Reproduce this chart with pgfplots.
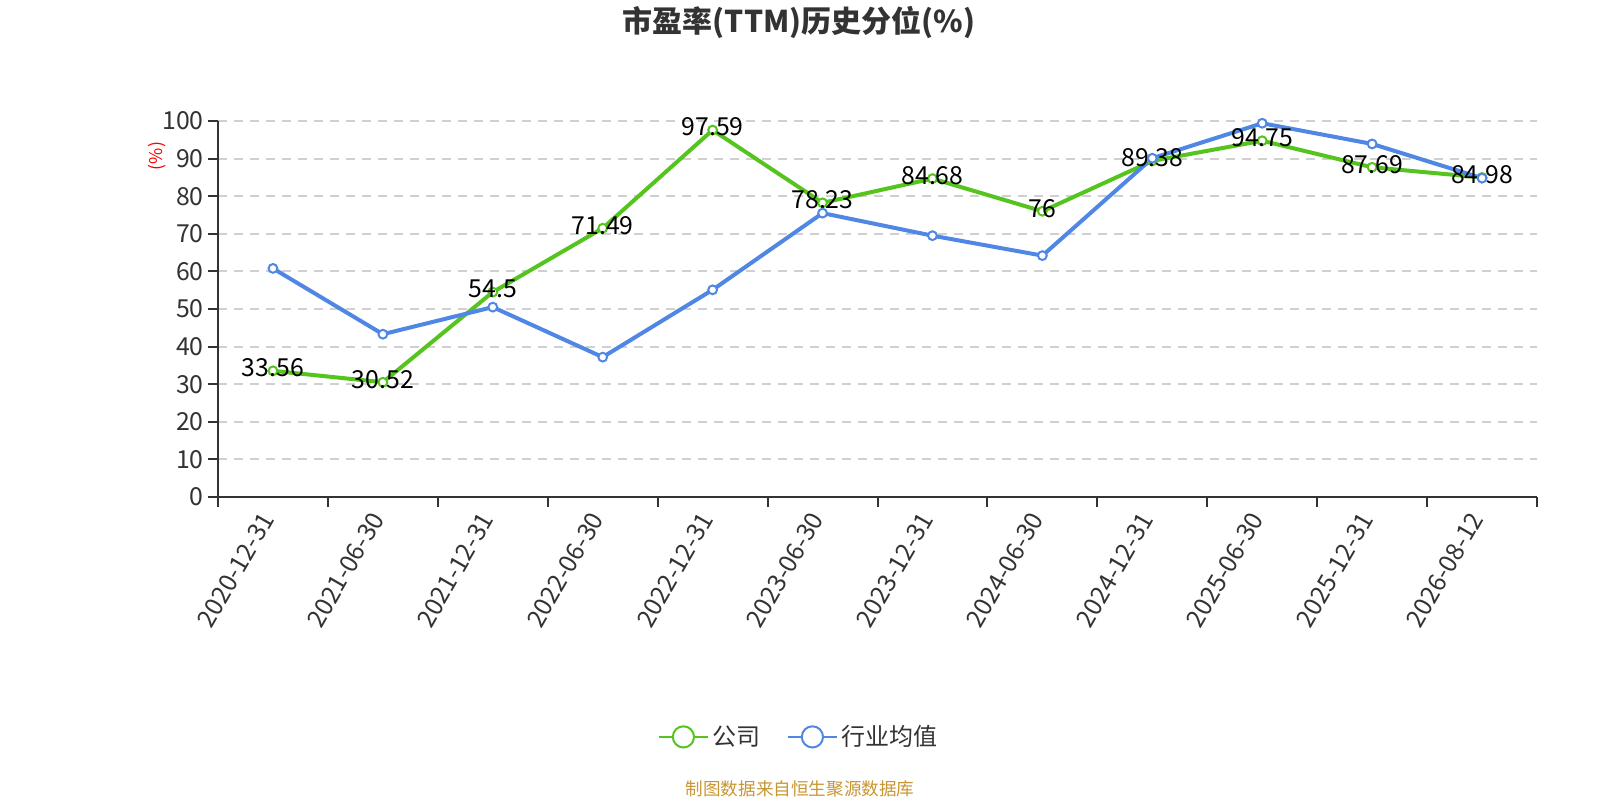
\documentclass[border=0pt]{standalone}
\usepackage{pgfplots}
\pgfplotsset{compat=1.18}
\usepackage{pgfplotstable}
\usepackage{fontspec}
\setmainfont{Noto Sans CJK SC}
\definecolor{cgreen}{RGB}{86,196,30}
\definecolor{cblue}{RGB}{80,135,228}
\definecolor{ctext}{RGB}{51,51,51}
\definecolor{cgrid}{RGB}{208,208,208}
\definecolor{csrc}{RGB}{200,150,50}
\pgfplotstableread{
x y lab
0 33.56 33.56
1 30.52 30.52
2 54.5 54.5
3 71.49 71.49
4 97.59 97.59
5 78.23 78.23
6 84.68 84.68
7 76 76
8 89.38 89.38
9 94.75 94.75
10 87.69 87.69
11 84.98 84.98
}\company
\pgfplotstableread{
x y
0 60.8
1 43.3
2 50.5
3 37.2
4 55.1
5 75.5
6 69.5
7 64.2
8 90.1
9 99.4
10 93.9
11 84.8
}\industry
\begin{document}
\begin{tikzpicture}[x=1pt,y=1pt]
\path[use as bounding box] (0,0) rectangle (800,400);
\begin{axis}[
  at={(109pt,151.5pt)}, anchor=south west,
  scale only axis, width=659.5pt, height=188pt,
  xmin=-0.5, xmax=11.5, ymin=0, ymax=100,
  axis lines=left, axis line style={-, draw=ctext, line width=1pt},
  xtick={0,...,11},
  xticklabels={2020-12-31,2021-06-30,2021-12-31,2022-06-30,2022-12-31,2023-06-30,2023-12-31,2024-06-30,2024-12-31,2025-06-30,2025-12-31,2026-08-12},
  minor xtick={-0.5,0.5,...,11.5},
  ytick={0,10,...,100},
  tick align=outside,
  major tick length=5pt, minor tick length=5pt,
  x tick style={draw=none},
  minor x tick style={draw=ctext, line width=1pt},
  y tick style={draw=ctext, line width=1pt},
  xticklabel style={xshift=-2.2pt, yshift=-2.8pt, rotate=60, anchor=east, font=\fontsize{12.4}{14}\selectfont, text=ctext, inner sep=1pt},
  yticklabel style={font=\fontsize{12.4}{14}\selectfont, text=ctext, inner sep=2pt},
  /pgf/number format/assume math mode=true,
  ymajorgrids, grid style={cgrid, dash pattern=on 4.5pt off 3.5pt, line width=1pt},
  legend style={at={(0.4412,-0.638)}, anchor=center, draw=none, fill=none, legend columns=2,
    font=\fontsize{12}{14}\selectfont, text=ctext,
    /tikz/every even column/.append style={column sep=11pt}},
  legend image code/.code={\draw[#1, line width=1pt] (0pt,0pt) -- (24.5pt,0pt);
    \draw[#1, line width=1pt, fill=white] (12.25pt,0pt) circle (5.3pt);},
  clip=false,
]
\addplot[cgreen, line width=2pt, mark=*, mark size=2.2pt, mark options={fill=white, line width=1pt},
  nodes near coords, point meta=explicit symbolic,
  every node near coord/.append style={anchor=center, yshift=1.5pt, text=black, font=\fontsize{12.4}{14}\selectfont}]
  table[x=x, y=y, meta=lab] {\company};
\addlegendentry{公司}
\addplot[cblue, line width=2pt, mark=*, mark size=2.2pt, mark options={fill=white, line width=1pt}]
  table[x=x, y=y] {\industry};
\addlegendentry{行业均值}
\end{axis}
\node[font=\bfseries\fontsize{15}{18}\selectfont, text=ctext] at (399.5,389) {市盈率(TTM)历史分位(\%)};
\node[rotate=90, font=\fontsize{8.8}{10}\selectfont, text=red] at (78.3,322) {(\%)};
\node[font=\fontsize{8.8}{10}\selectfont, text=csrc] at (400,5.5) {制图数据来自恒生聚源数据库};
\end{tikzpicture}
\end{document}
